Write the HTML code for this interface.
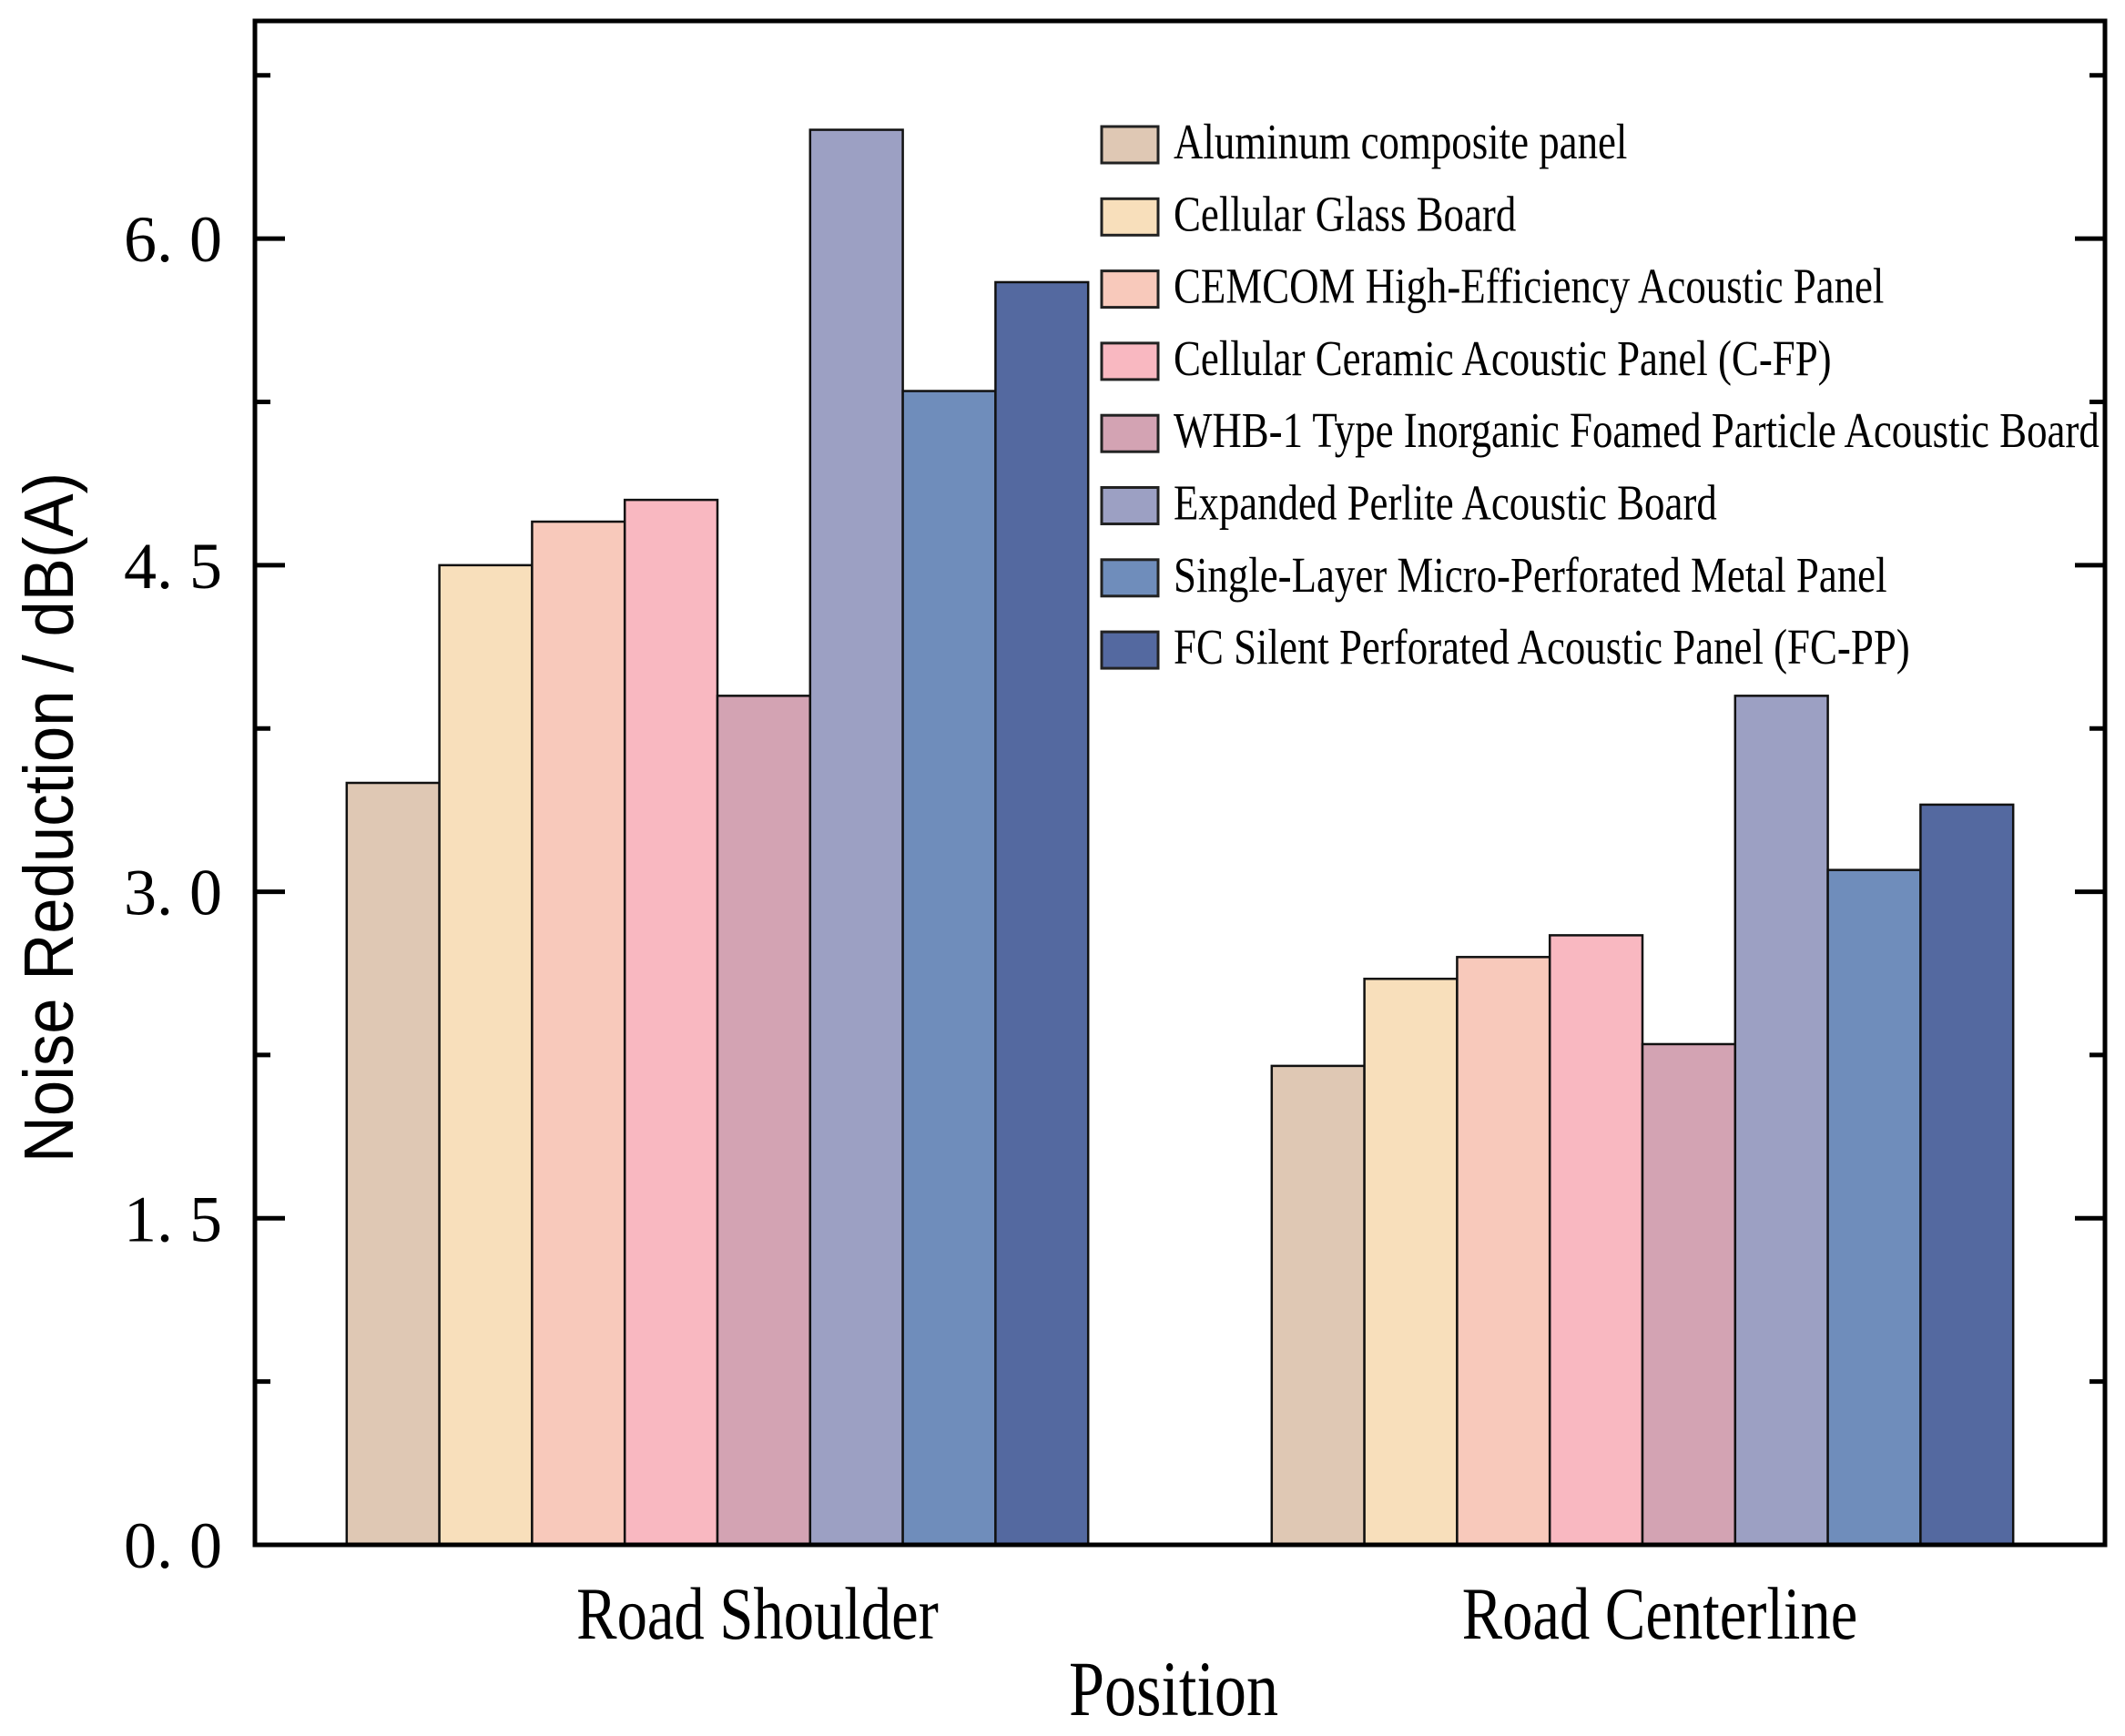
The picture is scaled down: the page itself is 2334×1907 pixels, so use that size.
<!DOCTYPE html>
<html><head><meta charset="utf-8"><style>
html,body{margin:0;padding:0;background:#fff;}
svg{display:block;}
</style></head><body>
<svg id="chart" width="2334" height="1907" viewBox="0 0 2334 1907" xmlns="http://www.w3.org/2000/svg">
<g id="bars"></g>
<g id="axes"></g>
<g id="legend"></g>
<text x="0" y="0" transform="translate(80,898) rotate(-90) scale(1.01,1.1)" text-anchor="middle" font-family="Liberation Sans, sans-serif" font-size="70">Noise Reduction / dB(A)</text>
<text x="0" y="0" transform="translate(1289,1884) scale(0.9,1.1)" text-anchor="middle" font-family="Liberation Serif, serif" font-size="78">Position</text>
</svg>
<script>
const categories = ["Road Shoulder", "Road Centerline"];
const seriesNames = ["Aluminum composite panel","Cellular Glass Board","CEMCOM High-Efficiency Acoustic Panel","Cellular Ceramic Acoustic Panel (C-FP)","WHB-1 Type Inorganic Foamed Particle Acoustic Board","Expanded Perlite Acoustic Board","Single-Layer Micro-Perforated Metal Panel","FC Silent Perforated Acoustic Panel (FC-PP)"];
const shoulderValues = [3.5, 4.5, 4.7, 4.8, 3.9, 6.5, 5.3, 5.8];
const centerlineValues = [2.2, 2.6, 2.7, 2.8, 2.3, 3.9, 3.1, 3.4];
const yTicks = [0, 1.5, 3.0, 4.5, 6.0];
const yTickLabels = ["0. 0","1. 5","3. 0","4. 5","6. 0"];
const colors = ["#dfc8b4","#f8dfbb","#f8c9bb","#f9b8c1","#d3a3b3","#9ca0c3","#6f8dbb","#5469a0"];

const NS = "http://www.w3.org/2000/svg";
const L = 280, R = 2312, T = 23, B = 1697, YMAX = 7.0;
function y(v){ return B - v / YMAX * (B - T); }
const barW = 101.8;
function groupCenter(i){ return L + (R - L) * (0.25 + 0.5 * i); }
function barX(g, s){ return groupCenter(g) - barW * 4 + s * barW; }
function mk(tag, attrs, parent){ const e = document.createElementNS(NS, tag); for (const k in attrs) e.setAttribute(k, attrs[k]); parent.appendChild(e); return e; }

const bars = document.getElementById('bars');
const labelOffsets = [44, 19];
[shoulderValues, centerlineValues].forEach((vals, g) => {
  vals.forEach((v, s) => {
    const r = mk('rect', {x: barX(g, s), y: y(v), width: barW, height: B - y(v), fill: colors[s], stroke: '#111', 'stroke-width': 2.5}, bars);
    
    
  });
  const t = mk('text', {x: 0, y: 0, transform: 'translate(' + (groupCenter(g) + labelOffsets[g]) + ',1800) scale(0.9,1.1)', 'text-anchor': 'middle', 'font-family': 'Liberation Serif, serif', 'font-size': 74}, bars);
  t.textContent = categories[g];
  
  
});

const axes = document.getElementById('axes');
const frame = mk('rect', {x: L, y: T, width: R - L, height: B - T, fill: 'none', stroke: '#000', 'stroke-width': 5}, axes);


for (let v = 0; v <= 7.0; v += 0.75) {
  const major = Math.abs((v / 1.5) - Math.round(v / 1.5)) < 1e-6;
  const len = major ? 33 : 17;
  const t1 = mk('line', {x1: L, x2: L + len, y1: y(v), y2: y(v), stroke: '#000', 'stroke-width': 5}, axes);
  
  
  const t2 = mk('line', {x1: R, x2: R - len, y1: y(v), y2: y(v), stroke: '#000', 'stroke-width': 5}, axes);
  
  
}
yTicks.forEach((v, i) => {
  const t = mk('text', {x: 244, y: y(v) + 25, 'text-anchor': 'end', 'font-family': 'Liberation Serif, serif', 'font-size': 72}, axes);
  t.textContent = yTickLabels[i];
  
  
});

const legend = document.getElementById('legend');
seriesNames.forEach((n, i) => {
  const cy = 159 + i * 79.3;
  const sw = mk('rect', {x: 1210, y: cy - 20, width: 62, height: 40, fill: colors[i], stroke: '#222', 'stroke-width': 3}, legend);
  
  
  const t = mk('text', {x: 0, y: 0, transform: 'translate(1289,' + (cy + 15) + ') scale(0.88,1.08)', 'font-family': 'Liberation Serif, serif', 'font-size': 51}, legend);
  t.textContent = n;
  
  
});
</script>
</body></html>
